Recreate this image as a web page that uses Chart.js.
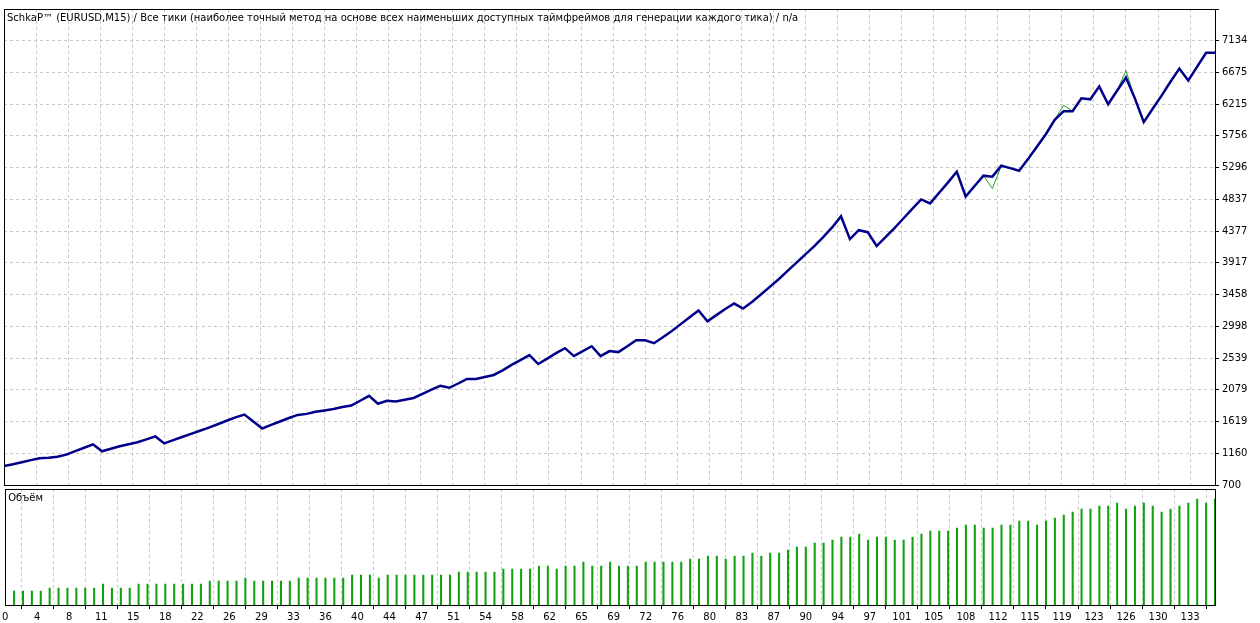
<!DOCTYPE html>
<html>
<head>
<meta charset="utf-8">
<script src="https://cdn.jsdelivr.net/npm/chart.js@4"></script>
<style>
body { margin: 0; background: #fff; width: 1260px; height: 623px; overflow: hidden; }
#main { position: absolute; left: 0; top: 0; }
#vol { position: absolute; left: 0; top: 489px; }
</style>
</head>
<body>
<canvas id="main" width="1260" height="495"></canvas>
<canvas id="vol" width="1260" height="134"></canvas>
<script>
var titleText = 'SchkaP\u2122 (EURUSD,M15) / Все тики (наиболее точный метод на основе всех наименьших доступных таймфреймов для генерации каждого тика) / n/a';
var volTitle = 'Объём';

// balance per trade number (0..136)
var balance = [973,1000,1030,1060,1088,1095,1110,1140,1190,1240,1289,1188,1225,1260,1290,1320,1360,1404,1303,1350,
  1395,1440,1485,1530,1580,1630,1680,1720,1620,1519,1570,1620,1670,1715,1730,1760,1780,1800,1830,1850,
  1920,1992,1877,1920,1910,1934,1960,2020,2080,2136,2108,2170,2237,2237,2265,2294,2360,2440,2510,2581,
  2452,2530,2610,2682,2567,2640,2710,2567,2639,2625,2710,2797,2797,2754,2840,2930,3030,3130,3227,3070,
  3160,3250,3328,3256,3350,3460,3570,3680,3800,3920,4040,4160,4290,4430,4591,4261,4390,4362,4161,4290,
  4420,4560,4700,4836,4778,4930,5080,5238,4879,5030,5180,5166,5324,5290,5252,5420,5600,5780,5990,6114,
  6114,6300,6286,6473,6214,6410,6602,6300,5956,6150,6340,6540,6731,6559,6760,6961,6961];
// equity per trade number
var equity = [973,1000,1030,1060,1088,1095,1110,1140,1190,1240,1289,1188,1225,1260,1290,1320,1360,1404,1303,1350,
  1395,1440,1485,1530,1580,1630,1680,1720,1620,1519,1570,1620,1670,1715,1730,1760,1780,1800,1830,1850,
  1920,1992,1877,1920,1910,1934,1960,2020,2080,2136,2108,2170,2237,2237,2265,2294,2360,2440,2510,2581,
  2452,2530,2610,2682,2567,2640,2710,2567,2639,2625,2710,2797,2797,2754,2840,2930,3030,3130,3227,3070,
  3160,3250,3328,3256,3350,3460,3570,3680,3800,3920,4040,4160,4290,4430,4591,4261,4390,4362,4161,4290,
  4420,4560,4700,4836,4778,4930,5080,5238,4879,5030,5180,4994,5324,5290,5252,5420,5600,5780,5990,6200,
  6114,6300,6286,6473,6214,6410,6702,6300,5956,6150,6340,6540,6731,6559,6760,6961,6961];
// lots per trade (trades 1..136)
var volumes = [0.14,0.14,0.14,0.14,0.17,0.17,0.17,0.17,0.17,0.17,0.21,0.17,0.17,0.17,0.21,0.21,0.21,0.21,0.21,0.21,
  0.21,0.21,0.24,0.24,0.24,0.24,0.27,0.24,0.24,0.24,0.24,0.24,0.27,0.27,0.27,0.27,0.27,0.27,0.30,0.30,
  0.30,0.27,0.30,0.30,0.30,0.30,0.30,0.30,0.30,0.30,0.33,0.33,0.33,0.33,0.33,0.36,0.36,0.36,0.36,0.39,
  0.39,0.36,0.39,0.39,0.43,0.39,0.39,0.43,0.39,0.39,0.39,0.43,0.43,0.43,0.43,0.43,0.46,0.46,0.49,0.49,
  0.46,0.49,0.49,0.52,0.49,0.52,0.52,0.55,0.58,0.58,0.62,0.62,0.65,0.68,0.68,0.71,0.65,0.68,0.68,0.65,
  0.65,0.68,0.71,0.74,0.74,0.74,0.77,0.80,0.80,0.77,0.77,0.80,0.80,0.84,0.84,0.80,0.84,0.87,0.90,0.93,
  0.96,0.96,0.99,0.99,1.02,0.96,0.99,1.02,0.99,0.93,0.96,0.99,1.02,1.06,1.02,1.06,1.09];
var xLabels = [0,4,8,11,15,18,22,26,29,33,36,40,44,47,51,54,58,62,65,69,72,76,80,83,87,90,94,97,101,105,108,112,115,119,123,126,130,133];
var yLabels = [700,1160,1619,2079,2539,2998,3458,3917,4377,4837,5296,5756,6215,6675,7134];

var xMax = 136, xStep = 3.6, yTop = 7594;
var font = { family: 'DejaVu Sans', size: 10 };
var dashed = { display: false, dash: [3, 3] };

function xTicks(scale) {
  scale.ticks = xLabels.map(function (l, k) { return { value: k * xStep }; });
}
function xLabel(v) {
  return String(xLabels[Math.round(v / xStep)]);
}

var frame = {
  id: 'frame',
  afterDraw: function (chart, args, opts) {
    var a = chart.chartArea, c = chart.ctx;
    c.save();
    c.strokeStyle = '#000';
    c.lineWidth = 1;
    c.strokeRect(Math.floor(a.left) + 0.5, Math.floor(a.top) + 0.5, Math.round(a.right - a.left), Math.round(a.bottom - a.top));
    c.fillStyle = '#000';
    c.font = '10px "DejaVu Sans"';
    c.textBaseline = 'middle';
    c.fillText(opts.text, a.left + 3, a.top + 9);
    c.restore();
  }
};

new Chart(document.getElementById('main'), {
  type: 'line',
  data: {
    datasets: [{
      data: balance.map(function (v, i) { return { x: i, y: v }; }),
      borderColor: '#00008b', borderWidth: 2.5, pointRadius: 0, tension: 0
    }, {
      data: equity.map(function (v, i) { return { x: i, y: v }; }),
      borderColor: '#22a022', borderWidth: 1, pointRadius: 0, tension: 0
    }]
  },
  options: {
    responsive: false, animation: false,
    layout: { padding: { left: 4, top: 4, right: 0, bottom: 0 } },
    plugins: { legend: { display: false }, tooltip: { enabled: false }, frame: { text: titleText } },
    scales: {
      x: {
        type: 'linear', min: 0, max: xMax,
        afterBuildTicks: xTicks,
        afterFit: function (s) { s.height = 10; },
        ticks: { display: false },
        grid: { color: '#c8c8c8', drawTicks: false },
        border: dashed
      },
      y: {
        position: 'right', min: 700, max: yTop,
        afterBuildTicks: function (s) {
          s.ticks = yLabels.map(function (v) { return { value: v }; });
          s.ticks.push({ value: yTop });
        },
        afterFit: function (s) { s.width = 45; },
        ticks: {
          color: '#000', font: font, padding: 3,
          callback: function (v) { return yLabels.indexOf(v) >= 0 ? String(v) : ''; }
        },
        grid: { color: '#c8c8c8', tickLength: 4, tickColor: '#000' },
        border: dashed
      }
    }
  },
  plugins: [frame]
});

new Chart(document.getElementById('vol'), {
  type: 'bar',
  data: {
    datasets: [{
      data: volumes.map(function (v, j) { return { x: j + 1, y: v }; }),
      backgroundColor: '#10a010', barThickness: 1.4
    }]
  },
  options: {
    responsive: false, animation: false,
    layout: { padding: { left: 4, top: 0, right: 0, bottom: 0 } },
    plugins: { legend: { display: false }, tooltip: { enabled: false }, frame: { text: volTitle } },
    scales: {
      x: {
        type: 'linear', min: 0, max: xMax, offset: false,
        afterBuildTicks: xTicks,
        afterFit: function (s) { s.height = 18; },
        ticks: { color: '#000', font: font, autoSkip: false, maxRotation: 0, padding: 2, callback: xLabel },
        grid: { color: '#c8c8c8', tickLength: 4, tickColor: '#000' },
        border: dashed
      },
      y: {
        position: 'right', min: 0, max: 1.16,
        afterFit: function (s) { s.width = 45; },
        ticks: { display: false },
        grid: { display: false },
        border: { display: false }
      }
    }
  },
  plugins: [frame]
});
</script>
</body>
</html>
